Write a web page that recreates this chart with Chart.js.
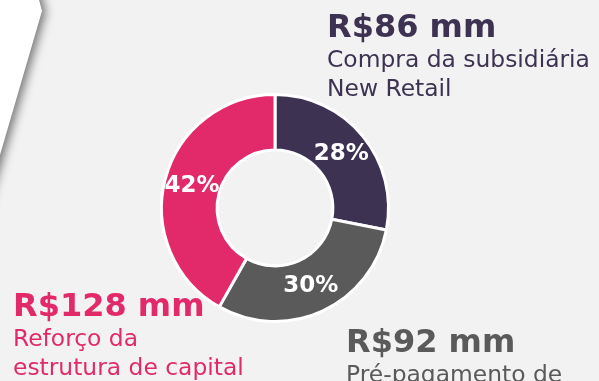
<!DOCTYPE html>
<html lang="pt-BR">
<head>
<meta charset="UTF-8">
<title>Uso dos recursos</title>
<style>
  html, body { margin: 0; padding: 0; background: #f2f2f2; }
  #wrap { position: relative; width: 599px; height: 381px; }
</style>
</head>
<body>
<div id="wrap"><canvas id="uso"></canvas></div>
<script src="https://cdn.jsdelivr.net/npm/chart.js"></script>
<script>
// valores em R$ milhões
const valores = [86, 92, 128];
const descricoes = [
  ['Compra da subsidiária', 'New Retail'],
  ['Pré-pagamento de'],
  ['Reforço da', 'estrutura de capital']
];
const cores = ['#3e3252', '#5a5a5a', '#e22a6a'];

// onde cada bloco de texto começa (linha de base do título)
const posTextos = [
  { x: 327, y: 37 },
  { x: 346, y: 352 },
  { x: 13, y: 316 }
];

const total = valores.reduce((a, b) => a + b, 0);
const FONTE = "'DejaVu Sans', Verdana, sans-serif";

// fundo cinza com a aba branca no canto
const fundo = {
  id: 'fundo',
  beforeDraw(chart) {
    const ctx = chart.ctx;
    ctx.save();
    ctx.fillStyle = '#f2f2f2';
    ctx.fillRect(0, 0, chart.width, chart.height);
    ctx.shadowColor = 'rgba(0,0,0,0.5)';
    ctx.shadowBlur = 10;
    ctx.shadowOffsetX = 4;
    ctx.shadowOffsetY = 1;
    ctx.fillStyle = '#ffffff';
    ctx.beginPath();
    ctx.moveTo(-30, -30);
    ctx.lineTo(31, -30);
    ctx.lineTo(42, 11);
    ctx.lineTo(-30, 258);
    ctx.closePath();
    ctx.fill();
    ctx.restore();
  }
};

// percentuais dentro das fatias e textos ao redor
const rotulos = {
  id: 'rotulos',
  afterDatasetsDraw(chart) {
    const ctx = chart.ctx;
    const arcs = chart.getDatasetMeta(0).data;
    ctx.save();
    ctx.textAlign = 'center';
    ctx.textBaseline = 'middle';
    ctx.fillStyle = '#ffffff';
    ctx.font = 'bold 23px ' + FONTE;
    arcs.forEach((arc, i) => {
      const p = arc.tooltipPosition();
      const pct = Math.round(valores[i] / total * 100);
      ctx.fillText(pct + '%', p.x, p.y);
    });

    ctx.textAlign = 'left';
    ctx.textBaseline = 'alphabetic';
    valores.forEach((v, i) => {
      const { x, y } = posTextos[i];
      ctx.fillStyle = cores[i];
      ctx.font = 'bold 32px ' + FONTE;
      ctx.fillText('R$' + v + ' mm', x, y);
      ctx.font = '23.4px ' + FONTE;
      descricoes[i].forEach((linha, j) => {
        ctx.fillText(linha, x, y + 30 + j * 29);
      });
    });
    ctx.restore();
  }
};

new Chart(document.getElementById('uso'), {
  type: 'doughnut',
  data: {
    labels: descricoes.map(d => d.join(' ')),
    datasets: [{
      data: valores,
      backgroundColor: cores,
      borderColor: '#ffffff',
      borderWidth: 3
    }]
  },
  options: {
    responsive: true,
    maintainAspectRatio: false,
    animation: false,
    cutout: '51%',
    layout: { padding: { left: 160, right: 209, top: 93, bottom: 58 } },
    plugins: {
      legend: { display: false },
      tooltip: { enabled: false }
    }
  },
  plugins: [fundo, rotulos]
});
</script>
</body>
</html>
